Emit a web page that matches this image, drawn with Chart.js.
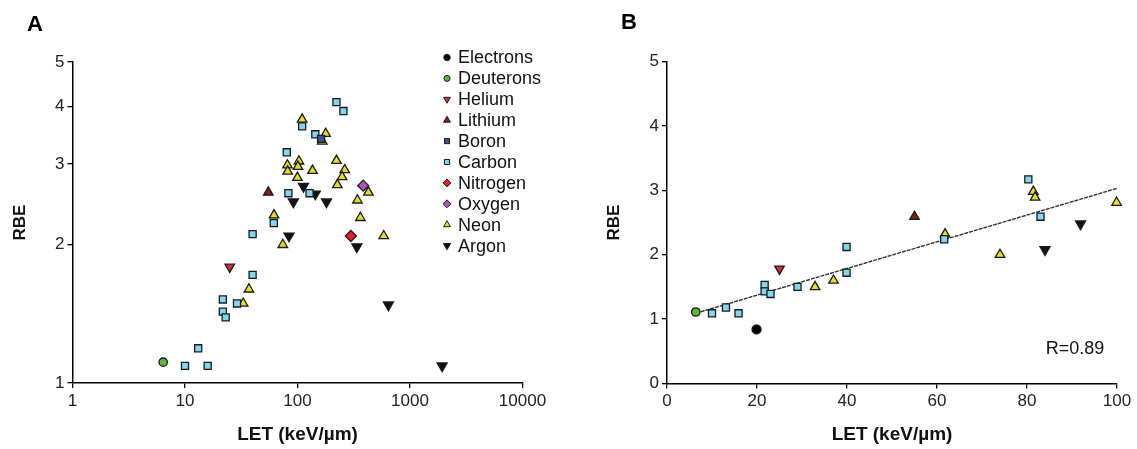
<!DOCTYPE html>
<html>
<head>
<meta charset="utf-8">
<script src="https://cdn.jsdelivr.net/npm/chart.js@4.4.0/dist/chart.umd.min.js"></script>
<style>
  body { margin: 0; background: #fff; }
  #wrap { position: relative; width: 1137px; height: 449px; }
  canvas { position: absolute; top: 0; }
  #chartA { left: 0; }
  #chartB { left: 568px; }
</style>
</head>
<body>
<div id="wrap">
  <canvas id="chartA" width="568" height="449"></canvas>
  <canvas id="chartB" width="569" height="449"></canvas>
</div>
<script>
// Panel A: RBE vs LET (keV/um), log-log, points as [LET, RBE]
const electronsA = [];
const deuteronsA = [[6.4, 1.11]];
const heliumA = [[25, 1.79]];
const lithiumA = [[55, 2.6]];
const boronA = [[162, 3.4]];
const carbonA = [[222, 4.09], [256, 3.91], [110, 3.62], [144, 3.48], [80.3, 3.18], [128, 2.59],
  [83, 2.59], [61.6, 2.23], [39.9, 2.11], [39.9, 1.72], [29, 1.49], [21.7, 1.52], [21.7, 1.43],
  [23, 1.39], [13.1, 1.19], [10, 1.09], [15.9, 1.09]];
const nitrogenA = [[298, 2.09]];
const oxygenA = [[384, 2.69]];
const neonA = [[110, 3.75], [178, 3.49], [166, 3.36], [103, 3.04], [101, 2.96], [81.4, 2.98],
  [81.8, 2.89], [136, 2.9], [222, 3.05], [263, 2.91], [249, 2.81], [226, 2.7], [427, 2.6],
  [99.9, 2.8], [341, 2.5], [61.8, 2.32], [362, 2.29], [74, 2.0], [584, 2.09], [37, 1.6], [32.9, 1.49]];
const argonA = [[113, 2.68], [144, 2.58], [91.9, 2.48], [181, 2.48], [84, 2.09], [337, 1.98],
  [643, 1.48], [1930, 1.09]];

// Panel B: same data, LET up to 100, linear axes
const electronsB = [[19.9, 0.84]];
const deuteronsB = [[6.4, 1.11]];
const heliumB = [[25, 1.78]];
const lithiumB = [[55, 2.59]];
const boronB = [];
const carbonB = [[10, 1.09], [13.1, 1.18], [15.9, 1.09], [21.7, 1.53], [21.7, 1.43], [23, 1.39],
  [29, 1.5], [39.9, 1.72], [39.9, 2.12], [61.6, 2.24], [80.3, 3.17], [83, 2.59]];
const nitrogenB = [];
const oxygenB = [];
const neonB = [[32.9, 1.5], [37, 1.6], [61.8, 2.32], [74, 2.0], [81.4, 2.98], [81.8, 2.89], [99.9, 2.81]];
const argonB = [[84, 2.08], [91.9, 2.48]];

// linear fit drawn in panel B
const fitX = [6.4, 100];
const fitY = [1.09, 3.03];
const fitLabel = 'R=0.89';

const speciesNames = ['Electrons', 'Deuterons', 'Helium', 'Lithium', 'Boron', 'Carbon',
  'Nitrogen', 'Oxygen', 'Neon', 'Argon'];
const xTicksA = [1, 10, 100, 1000, 10000];
const yTicksA = [1, 2, 3, 4, 5];
const xTicksB = [0, 20, 40, 60, 80, 100];
const yTicksB = [0, 1, 2, 3, 4, 5];

const FONT = '"Liberation Sans", Arial, Helvetica, sans-serif';

const speciesStyle = {
  Electrons: { fill: '#000000', shape: 'circle', rot: 0, r: 4.5 },
  Deuterons: { fill: '#5cb83a', shape: 'circle', rot: 0, r: 4.2 },
  Helium: { fill: '#e02828', shape: 'triangle', rot: 180, r: 5.5 },
  Lithium: { fill: '#8b1a1a', shape: 'triangle', rot: 0, r: 5.5 },
  Boron: { fill: '#3c4fa0', shape: 'rect', rot: 0, r: 5 },
  Carbon: { fill: '#80d8f0', shape: 'rect', rot: 0, r: 5 },
  Nitrogen: { fill: '#e8202a', shape: 'rectRot', rot: 0, r: 5.5 },
  Oxygen: { fill: '#b054b8', shape: 'rectRot', rot: 0, r: 5.5 },
  Neon: { fill: '#e4e01c', shape: 'triangle', rot: 0, r: 5.5 },
  Argon: { fill: '#111111', shape: 'triangle', rot: 180, r: 5.8 }
};

function makeDatasets(lists) {
  return speciesNames.map((name, i) => {
    const st = speciesStyle[name];
    return {
      label: name,
      data: lists[i].map(p => ({ x: p[0], y: p[1] })),
      pointStyle: st.shape,
      pointRotation: st.rot,
      pointRadius: st.r,
      pointHoverRadius: st.r,
      backgroundColor: st.fill,
      borderColor: '#1a1a1a',
      borderWidth: 1.3,
      clip: false,
      order: 0
    };
  });
}

function axis(type, min, max, tickList, title, titlePad, fit) {
  return {
    type: type,
    min: min,
    max: max,
    afterBuildTicks: s => { s.ticks = tickList.map(v => ({ value: v })); },
    afterFit: fit,
    ticks: {
      autoSkip: false,
      maxRotation: 0,
      padding: 3,
      color: '#222',
      font: { family: FONT, size: 17 },
      callback: v => String(v)
    },
    grid: { drawOnChartArea: false, drawTicks: true, tickLength: 5, color: '#000', lineWidth: 1.3 },
    border: { display: true, color: '#000', width: 1.5 },
    title: {
      display: true,
      text: title.text,
      color: '#111',
      font: { family: FONT, size: title.size, weight: 'bold' },
      padding: titlePad
    }
  };
}

// letters, legend and R label drawn on top
const panelText = {
  id: 'panelText',
  afterDraw(chart, args, opts) {
    const ctx = chart.ctx;
    ctx.save();
    ctx.fillStyle = '#000';
    ctx.textBaseline = 'middle';
    ctx.textAlign = 'center';
    ctx.font = 'bold 22px ' + FONT;
    ctx.fillText(opts.letter, opts.letterX, opts.letterY);

    if (opts.legend) {
      ctx.font = '18px ' + FONT;
      ctx.textAlign = 'left';
      speciesNames.forEach((name, i) => {
        const st = speciesStyle[name];
        const y = 57.5 + i * 20.9;
        ctx.fillStyle = st.fill;
        ctx.strokeStyle = '#1a1a1a';
        ctx.lineWidth = 1;
        Chart.helpers.drawPoint(ctx, {
          pointStyle: st.shape, rotation: st.rot, radius: st.r * 0.72, borderWidth: 1
        }, 447, y);
        ctx.fillStyle = '#111';
        ctx.fillText(name, 458, y + 1);
      });
    }
    if (opts.note) {
      ctx.font = '18px ' + FONT;
      ctx.textAlign = 'center';
      ctx.fillStyle = '#111';
      ctx.fillText(opts.note, opts.noteX, opts.noteY);
    }
    ctx.restore();
  }
};

const chartA = new Chart(document.getElementById('chartA'), {
  type: 'scatter',
  data: {
    datasets: makeDatasets([electronsA, deuteronsA, heliumA, lithiumA, boronA, carbonA,
      nitrogenA, oxygenA, neonA, argonA])
  },
  options: {
    responsive: false,
    animation: false,
    layout: { padding: { left: 0, right: 45.5, top: 62, bottom: 0 } },
    scales: {
      x: axis('logarithmic', 1, 10000, xTicksA, { text: 'LET (keV/\u00b5m)', size: 19 },
        { top: 0, bottom: 3 }, s => { s.height = 66; }),
      y: axis('logarithmic', 1, 5, yTicksA, { text: 'RBE', size: 17 },
        { top: 10, bottom: 0 }, s => { s.width = 72.5; })
    },
    plugins: {
      legend: { display: false },
      tooltip: { enabled: false },
      panelText: { letter: 'A', letterX: 35, letterY: 25, legend: true }
    }
  },
  plugins: [panelText]
});

const dsB = makeDatasets([electronsB, deuteronsB, heliumB, lithiumB, boronB, carbonB,
  nitrogenB, oxygenB, neonB, argonB]);
dsB.push({
  type: 'line',
  label: 'fit',
  data: fitX.map((x, i) => ({ x: x, y: fitY[i] })),
  borderColor: '#333',
  borderWidth: 1.4,
  borderDash: [4, 1],
  pointRadius: 0,
  fill: false,
  order: 10
});

const chartB = new Chart(document.getElementById('chartB'), {
  type: 'scatter',
  data: { datasets: dsB },
  options: {
    responsive: false,
    animation: false,
    layout: { padding: { left: 0, right: 20, top: 61.5, bottom: 0 } },
    scales: {
      x: axis('linear', 0, 100, xTicksB, { text: 'LET (keV/\u00b5m)', size: 19 },
        { top: 0, bottom: 3 }, s => { s.height = 65.5; }),
      y: axis('linear', 0, 5, yTicksB, { text: 'RBE', size: 17 },
        { top: 36, bottom: 0 }, s => { s.width = 99; })
    },
    plugins: {
      legend: { display: false },
      tooltip: { enabled: false },
      panelText: { letter: 'B', letterX: 61, letterY: 23, note: fitLabel, noteX: 507, noteY: 349 }
    }
  },
  plugins: [panelText]
});
</script>
</body>
</html>
